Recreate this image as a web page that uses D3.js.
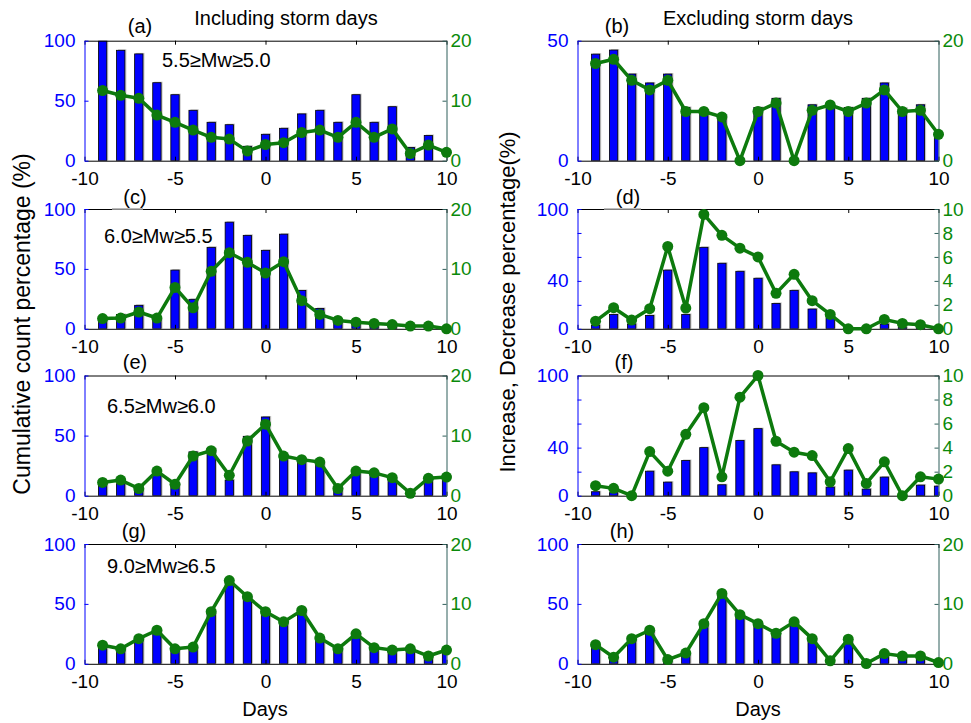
<!DOCTYPE html>
<html>
<head>
<meta charset="utf-8">
<script src="https://cdn.jsdelivr.net/npm/d3@7/dist/d3.min.js"></script>
<style>
  html, body { margin: 0; padding: 0; background: #fff; }
  svg { display: block; font-family: "Liberation Sans", Arial, Helvetica, sans-serif; }
</style>
</head>
<body>
<svg id="fig" width="971" height="723"></svg>
<script>
// Days relative to the storm (day 0)
const days = [-9, -8, -7, -6, -5, -4, -3, -2, -1, 0, 1, 2, 3, 4, 5, 6, 7, 8, 9, 10];

// Tick values and labels
const xTicks = [-10, -5, 0, 5, 10];
const leftTicks100 = [0, 50, 100];
const leftTicks50 = [0, 50];
const leftTicksFine = [0, 20, 40, 60, 80, 100];
const leftLabelsFine = ["0", "", "40", "", "", "100"];
const rightTicks20 = [0, 10, 20];
const rightTicks20Sparse = [0, 20];
const rightTicks10 = [0, 2, 4, 6, 8, 10];

// Magnitude ranges
const magLabels = ["5.5\u2265Mw\u22655.0", "6.0\u2265Mw\u22655.5", "6.5\u2265Mw\u22656.0", "9.0\u2265Mw\u22656.5"];

// Cumulative count percentage (bars, left axis) and increase/decrease percentage (line, right axis)
const barsA = [100, 92, 89, 65, 55, 42, 32, 30, 12, 22, 27, 39, 42, 32, 55, 32, 45, 11, 21, 0];
const lineA = [11.7, 10.9, 10.4, 7.6, 6.4, 5.1, 3.9, 3.6, 1.6, 2.7, 3.0, 4.7, 5.1, 3.9, 6.4, 3.9, 5.3, 1.2, 2.6, 1.4];

const barsB = [44.4, 46.1, 36.1, 32.4, 36.1, 22.2, 21, 19, 0, 22.2, 26, 0, 23.3, 23.3, 22.2, 26, 32.4, 21.8, 23.3, 10.3];
const lineB = [16.2, 16.9, 13.4, 11.8, 13.4, 8.2, 8.2, 7.3, 0, 8.2, 9.6, 0, 8.4, 9.3, 8.2, 9.6, 11.8, 8.2, 8.4, 4.4];

const barsC = [7, 12, 19.6, 8, 49, 24.6, 68, 89, 78, 65.5, 79, 32, 17, 6, 4, 3, 2, 1.5, 1.5, 0];
const lineC = [1.7, 1.8, 2.8, 1.8, 6.9, 3.5, 9.6, 12.7, 11.1, 9.3, 11.2, 4.7, 2.4, 1.4, 1.1, 0.9, 0.7, 0.45, 0.45, 0];

const barsD = [3, 12, 4, 11.2, 49, 12, 68, 54.7, 48, 42.2, 21.2, 32.1, 16.5, 9.2, 0, 0, 4, 1, 1, 0];
const lineD = [0.64, 1.76, 0.73, 1.68, 6.87, 1.73, 9.55, 7.8, 6.73, 6.0, 2.96, 4.55, 2.35, 1.2, 0, 0, 0.78, 0.45, 0.34, 0];

const barsE = [10, 10, 5, 17, 10, 36.5, 39, 13, 49.4, 65.5, 33.7, 30.4, 26.8, 6, 18, 18.5, 14.4, 0, 14, 14];
const lineE = [2.2, 2.6, 1.2, 4.1, 1.9, 6.6, 7.5, 3.4, 9.1, 11.9, 6.6, 6.0, 5.6, 1.2, 4.1, 3.8, 3.0, 0.4, 2.9, 3.1];

const barsF = [3.3, 2.5, 0, 20.4, 11.3, 29.3, 40, 9.1, 45.9, 55.8, 25.7, 19.9, 19, 7.2, 21.3, 5.5, 15.5, 0, 8.8, 8];
const lineF = [0.83, 0.61, 0, 3.67, 2.04, 5.11, 7.32, 1.57, 8.2, 10, 4.53, 3.62, 3.34, 1.16, 3.92, 1.02, 2.82, 0, 1.57, 1.38];

const barsG = [15, 12, 22, 28, 12, 13, 42, 67, 56, 43.5, 35, 45, 21, 13, 25, 14, 11, 12, 6, 11];
const lineG = [3.1, 2.5, 4.2, 5.6, 2.5, 2.8, 8.7, 13.9, 11.2, 8.7, 7.0, 8.9, 4.3, 2.5, 5.0, 2.7, 2.3, 2.5, 1.3, 2.3];

const barsH = [15, 4, 20, 27, 2, 8, 32, 57, 40, 33, 25, 34, 21, 0, 18, 0, 7, 6, 6, 0];
const lineH = [3.2, 1.1, 4.2, 5.6, 0.7, 1.8, 6.7, 11.75, 8.2, 6.7, 5.1, 7.0, 4.2, 0.5, 4.1, 0.05, 1.7, 1.3, 1.3, 0.2];

// Colours
const BLUE = "#0000ff";
const GREEN_LINE = "#0d7a0d";
const GREEN_TEXT = "#0a8a0a";
const RIGHT_SPINE = "#2f5f5a";

// Panel frame geometry
const cols = [[84.5, 446.5], [577.5, 938.5]];
const rows = [[40.7, 160.7], [209, 328.8], [375.5, 495.7], [544, 663.8]];

const panels = [
  { id: "a", col: 0, row: 0, bars: barsA, line: lineA, lMax: 100, lTicks: leftTicks100, lLabels: null, rMax: 20, rTicks: rightTicks20, mag: magLabels[0], magPos: [162, 67], tag: [140, 33], tagBox: null },
  { id: "b", col: 1, row: 0, bars: barsB, line: lineB, lMax: 50, lTicks: leftTicks50, lLabels: null, rMax: 20, rTicks: rightTicks20Sparse, mag: null, tag: [617, 33], tagBox: null },
  { id: "c", col: 0, row: 1, bars: barsC, line: lineC, lMax: 100, lTicks: leftTicks100, lLabels: null, rMax: 20, rTicks: rightTicks20, mag: magLabels[1], magPos: [104, 243], tag: [135, 204], tagBox: [112, 143] },
  { id: "d", col: 1, row: 1, bars: barsD, line: lineD, lMax: 100, lTicks: leftTicksFine, lLabels: leftLabelsFine, rMax: 10, rTicks: rightTicks10, mag: null, tag: [628, 204], tagBox: [604, 641] },
  { id: "e", col: 0, row: 2, bars: barsE, line: lineE, lMax: 100, lTicks: leftTicks100, lLabels: null, rMax: 20, rTicks: rightTicks20, mag: magLabels[2], magPos: [107, 413], tag: [135, 369], tagBox: null },
  { id: "f", col: 1, row: 2, bars: barsF, line: lineF, lMax: 100, lTicks: leftTicksFine, lLabels: leftLabelsFine, rMax: 10, rTicks: rightTicks10, mag: null, tag: [624, 369], tagBox: null },
  { id: "g", col: 0, row: 3, bars: barsG, line: lineG, lMax: 100, lTicks: leftTicks100, lLabels: null, rMax: 20, rTicks: rightTicks20, mag: magLabels[3], magPos: [107, 573], tag: [134, 538], tagBox: null },
  { id: "h", col: 1, row: 3, bars: barsH, line: lineH, lMax: 100, lTicks: leftTicks100, lLabels: null, rMax: 20, rTicks: rightTicks20, mag: null, tag: [622, 538], tagBox: null }
];

const svg = d3.select("#fig");
svg.append("rect").attr("width", 971).attr("height", 723).attr("fill", "#fff");
const defs = svg.append("defs");

// Plain hyphen-minus for negative ticks
const plainFmt = d => String(d);

function styleAxis(g, color, textColor, fontSize) {
  g.select(".domain").attr("stroke", color).attr("stroke-width", 1);
  g.selectAll(".tick line").attr("stroke", color).attr("stroke-width", 1);
  g.selectAll(".tick text")
    .attr("fill", textColor)
    .attr("font-size", fontSize)
    .attr("font-family", "Liberation Sans, Arial, sans-serif");
}

panels.forEach(p => {
  const [x0, x1] = cols[p.col];
  const [y0, y1] = rows[p.row];
  const x = d3.scaleLinear().domain([-10, 10]).range([x0, x1]);
  const yL = d3.scaleLinear().domain([0, p.lMax]).range([y1, y0]);
  const yR = d3.scaleLinear().domain([0, p.rMax]).range([y1, y0]);
  const g = svg.append("g").attr("class", "panel-" + p.id);

  defs.append("clipPath").attr("id", "clip-" + p.id)
    .append("rect").attr("x", x0).attr("y", y0).attr("width", x1 - x0).attr("height", y1 - y0);

  // Bars (left axis)
  const barW = Math.abs(x(0.46) - x(0));
  const recs = days.map((d, i) => ({ day: d, v: p.bars[i], r: p.line[i] }));
  const barG = g.append("g").attr("clip-path", "url(#clip-" + p.id + ")");
  barG.selectAll("rect.shadow").data(recs.filter(d => d.v > 0)).join("rect")
    .attr("class", "shadow")
    .attr("x", d => x(d.day) - barW / 2 + 1.5)
    .attr("y", d => yL(d.v) - 1)
    .attr("width", barW)
    .attr("height", d => yL(0) - yL(d.v) + 1)
    .attr("fill", "#c4c4c4");
  barG.selectAll("rect.bar").data(recs.filter(d => d.v > 0)).join("rect")
    .attr("class", "bar")
    .attr("x", d => x(d.day) - barW / 2)
    .attr("y", d => yL(d.v))
    .attr("width", barW)
    .attr("height", d => yL(0) - yL(d.v))
    .attr("fill", BLUE)
    .attr("stroke", "#000")
    .attr("stroke-width", 0.8);

  // Axes
  const bottom = g.append("g").attr("transform", `translate(0,${y1})`)
    .call(d3.axisBottom(x).tickValues(xTicks).tickSize(-4).tickSizeOuter(0).tickPadding(11).tickFormat(plainFmt));
  styleAxis(bottom, "#000", "#000", 19);
  const top = g.append("g").attr("transform", `translate(0,${y0})`)
    .call(d3.axisTop(x).tickValues(xTicks).tickSize(-4).tickSizeOuter(0).tickFormat(""));
  styleAxis(top, "#000", "#000", 19);
  if (p.tagBox) {
    g.append("line").attr("x1", p.tagBox[0]).attr("x2", p.tagBox[1])
      .attr("y1", y0).attr("y2", y0)
      .attr("stroke", "#a8a8a8").attr("stroke-width", 1.6);
  }

  const lAxis = d3.axisLeft(yL).tickValues(p.lTicks).tickSize(-4).tickSizeOuter(0).tickPadding(9);
  lAxis.tickFormat(p.lLabels ? ((d, i) => p.lLabels[i]) : plainFmt);
  const left = g.append("g").attr("transform", `translate(${x0},0)`).call(lAxis);
  styleAxis(left, BLUE, BLUE, 19);

  const right = g.append("g").attr("transform", `translate(${x1},0)`)
    .call(d3.axisRight(yR).tickValues(p.rTicks).tickSize(-4).tickSizeOuter(0).tickPadding(4).tickFormat(plainFmt));
  styleAxis(right, RIGHT_SPINE, GREEN_TEXT, 19);

  // Increase/decrease percentage line (right axis)
  const line = d3.line().x(d => x(d.day)).y(d => yR(d.r));
  g.append("path").datum(recs)
    .attr("d", line)
    .attr("fill", "none")
    .attr("stroke", GREEN_LINE)
    .attr("stroke-width", 3.5)
    .attr("stroke-linejoin", "round");
  g.selectAll("circle.pt").data(recs).join("circle")
    .attr("class", "pt")
    .attr("cx", d => x(d.day))
    .attr("cy", d => yR(d.r))
    .attr("r", 5.5)
    .attr("fill", GREEN_LINE);

  // Panel tag and magnitude range
  g.append("text").attr("x", p.tag[0]).attr("y", p.tag[1])
    .attr("text-anchor", "middle").attr("font-size", 20).attr("fill", "#000")
    .text("(" + p.id + ")");
  if (p.mag) {
    g.append("text").attr("x", p.magPos[0]).attr("y", p.magPos[1])
      .attr("font-size", 20).attr("fill", "#000")
      .text(p.mag);
  }
});

// Column headings
svg.append("text").attr("x", 286).attr("y", 25).attr("text-anchor", "middle")
  .attr("font-size", 20).text("Including storm days");
svg.append("text").attr("x", 758).attr("y", 25).attr("text-anchor", "middle")
  .attr("font-size", 20).text("Excluding storm days");

// Axis titles
svg.append("text").attr("transform", "translate(30,324) rotate(-90)")
  .attr("text-anchor", "middle").attr("font-size", 23).text("Cumulative count percentage (%)");
svg.append("text").attr("transform", "translate(515,302) rotate(-90)")
  .attr("text-anchor", "middle").attr("font-size", 22).text("Increase, Decrease percentage(%)");
svg.append("text").attr("x", 265).attr("y", 716).attr("text-anchor", "middle")
  .attr("font-size", 20).text("Days");
svg.append("text").attr("x", 758).attr("y", 716).attr("text-anchor", "middle")
  .attr("font-size", 20).text("Days");
</script>
</body>
</html>
